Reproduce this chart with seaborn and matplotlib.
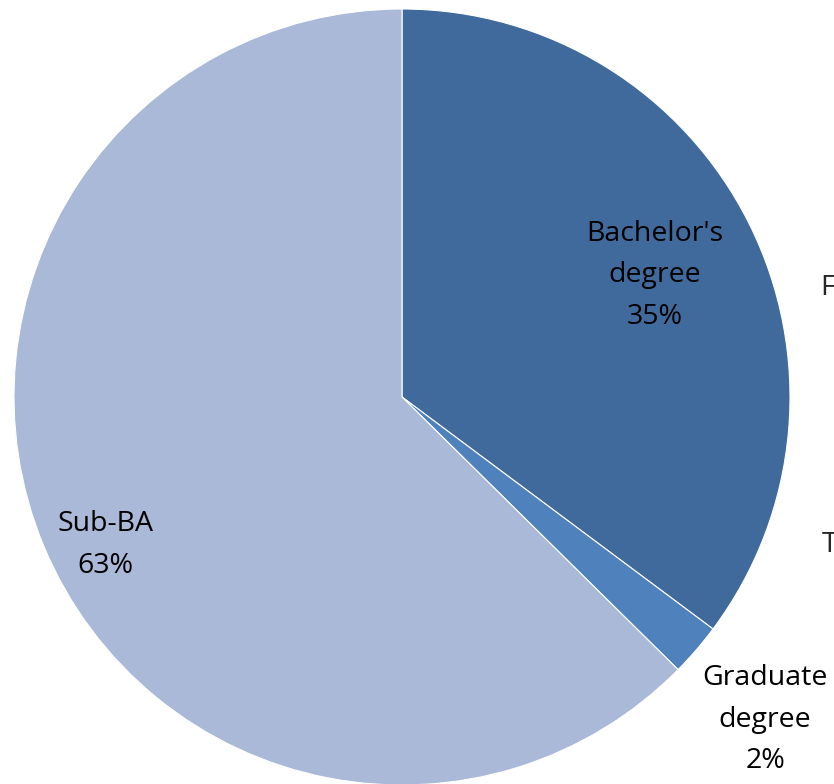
#pie chart of degree attainment shares
import matplotlib
matplotlib.use("Agg")
from matplotlib import pyplot as plt
import seaborn as sns

sns.set_theme(style="white")
plt.rcParams['font.family'] = ['Open Sans', 'DejaVu Sans']

#data
categories = ["Bachelor's\ndegree", "Graduate\ndegree", "Sub-BA"]
shares = [35.2, 2.2, 62.6]
shown_pct = [35, 2, 63]
colors = ['#416A9C', '#4F81BD', '#AAB9D7']

#label spots (in pie units, radius 1)
label_pos = [(0.651, 0.314), (0.936, -0.832), (-0.765, -0.381)]

fig = plt.figure(figsize=(8.34, 7.84), dpi=100)
ax = fig.add_axes([14 / 834, -1 / 784, 776 / 834, 776 / 784])

ax.pie(shares, colors=colors, startangle=90, counterclock=False, radius=1,
       wedgeprops=dict(edgecolor='white', linewidth=0.8))

for cat, pct, (x, y) in zip(categories, shown_pct, label_pos):
    ax.text(x, y, f"{cat}\n{pct}%", ha='center', va='center', fontsize=20.5,
            linespacing=1.65, color='black', clip_on=False)

#cut-off text on the right edge (the reference shows only these letters)
ax.text(1.077, 0.281, "F", ha='left', va='center', fontsize=20.5, clip_on=False)
ax.text(1.082, -0.381, "T", ha='left', va='center', fontsize=20.5, clip_on=False)

ax.set_xlim(-1, 1)
ax.set_ylim(-1, 1)
ax.set_aspect('equal')
ax.axis('off')

fig.savefig("out.png", dpi=100)
